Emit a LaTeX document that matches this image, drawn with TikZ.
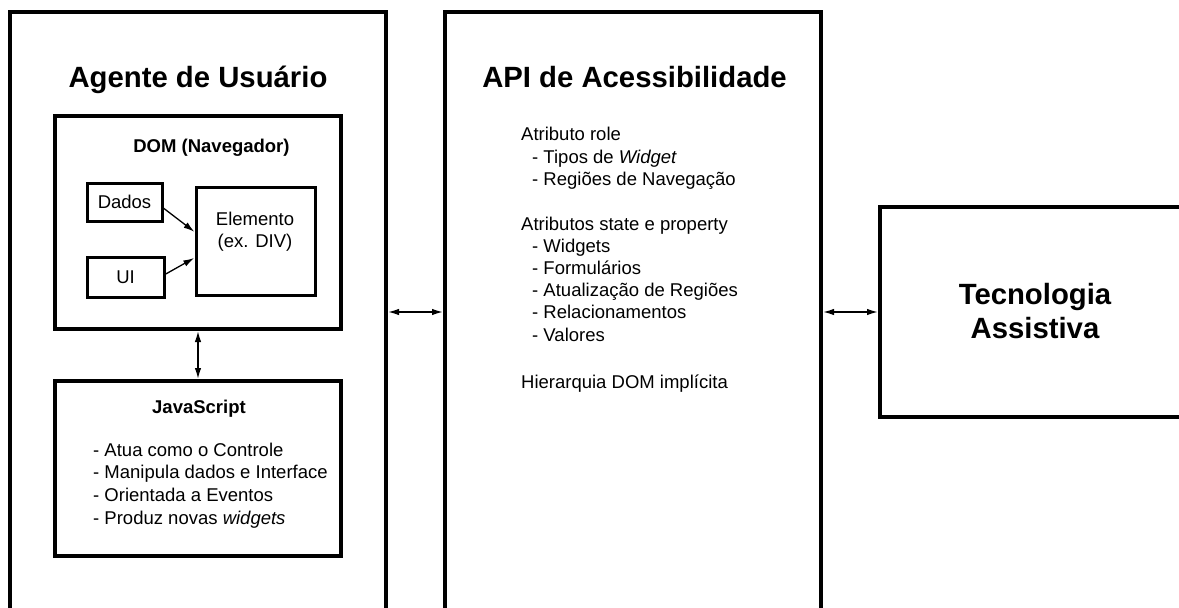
\documentclass[tikz,border=0pt]{standalone}
\usepackage{fontspec}
\setmainfont{Liberation Sans}
\usetikzlibrary{arrows.meta}
\tikzset{
  boxbig/.style={draw=black, line width=4pt, rectangle, inner sep=0pt, outer sep=0pt, anchor=north west},
  boxmid/.style={draw=black, line width=3.5pt, rectangle, inner sep=0pt, outer sep=0pt, anchor=north west},
  boxsmall/.style={draw=black, line width=3pt, rectangle, inner sep=0pt, outer sep=0pt, anchor=north west, font=\fontsize{18.5}{22}\selectfont},
  title/.style={inner sep=0pt, anchor=base, font=\fontsize{29.3}{34}\selectfont\bfseries},
  subtitle/.style={inner sep=0pt, anchor=base, font=\fontsize{18.5}{22}\selectfont\bfseries},
  txt/.style={inner sep=0pt, anchor=base west, font=\fontsize{18.5}{22}\selectfont},
  txtc/.style={inner sep=0pt, anchor=base, font=\fontsize{18.5}{22}\selectfont},
  tip/.tip={Latex[length=11pt,width=6.5pt]},
  arr/.style={line width=1.5pt, tip-tip, shorten <=2pt, shorten >=2pt},
  arrone/.style={line width=1.3pt, -tip, shorten >=2pt}
}
\begin{document}
\begin{tikzpicture}[x=1pt, y=-1pt]
\useasboundingbox (0,0) rectangle (1179,608);
\clip (0,0) rectangle (1179,608);
\fill[white] (0,0) rectangle (1179,608);

% outer boxes
\node[boxbig, minimum width=376pt, minimum height=600pt] (agente) at (10,12) {};
\node[boxbig, minimum width=376pt, minimum height=600pt] (api) at (445,12) {};
\node[boxbig, minimum width=310pt, minimum height=210pt] (tec) at (880,207) {};

% titles
\node[title] (tagente) at (198,87) {Agente de Usuário};
\node[title] (tapi) at (634.5,87) {API de Acessibilidade};
\node[title] (ttec1) at (1035,304) {Tecnologia};
\node[title] (ttec2) at (1035,338) {Assistiva};

% DOM box
\node[boxmid, minimum width=286pt, minimum height=213pt] (dom) at (55,116) {};
\node[subtitle] (tdom) at (211.5,152) {DOM (Navegador)};
\node[boxsmall, minimum width=75pt, minimum height=38pt] (dados) at (87,183) {Dados};
\node[boxsmall, minimum width=77pt, minimum height=40pt] (ui) at (87,257) {UI};
\node[boxsmall, minimum width=119pt, minimum height=108pt] (elem) at (196,187) {};
\node[txtc] (telem1) at (255,225) {Elemento};
\node[txtc] (telem2) at (255,247) {(ex. DIV)};

\draw[arrone] ([yshift=-5pt]dados.east) -- ([yshift=8pt]elem.west);
\draw[arrone] ([yshift=2pt]ui.east) -- ([yshift=-16pt]elem.west);

% JavaScript box
\node[boxmid, minimum width=286pt, minimum height=175pt] (js) at (55,381) {};
\node[subtitle] (tjs) at (199,413) {JavaScript};
\node[txt] (js1) at (93,456) {- Atua como o Controle};
\node[txt] (js2) at (93,478.7) {- Manipula dados e Interface};
\node[txt] (js3) at (93,501.3) {- Orientada a Eventos};
\node[txt] (js4) at (93,524) {- Produz novas \textit{widgets}};

\draw[arr] (dom.south) -- (js.north);

% API list
\node[txt] (a1) at (521,140.5) {Atributo role};
\node[txt] (a2) at (532,163) {- Tipos de \textit{Widget}};
\node[txt] (a3) at (532,185.5) {- Regiões de Navegação};
\node[txt] (b1) at (521,230.5) {Atributos state e property};
\node[txt] (b2) at (532,252.6) {- Widgets};
\node[txt] (b3) at (532,274.7) {- Formulários};
\node[txt] (b4) at (532,296.8) {- Atualização de Regiões};
\node[txt] (b5) at (532,318.9) {- Relacionamentos};
\node[txt] (b6) at (532,341) {- Valores};
\node[txt] (c1) at (521,388.5) {Hierarquia DOM implícita};

% connectors between columns
\draw[arr] (agente.east) -- (api.west);
\draw[arr] (api.east) -- (tec.west);
\end{tikzpicture}
\end{document}
